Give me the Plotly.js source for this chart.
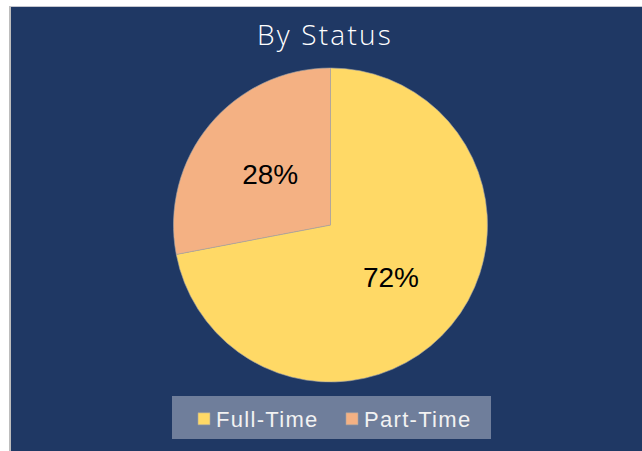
<!DOCTYPE html>
<html>
<head>
<meta charset="utf-8">
<script src="https://cdn.plot.ly/plotly-3.0.1.min.js"></script>
<style>
  html, body { margin: 0; padding: 0; background: #ffffff; width: 642px; height: 451px; overflow: hidden; }
  #frame { position: absolute; left: 9px; top: 6px; width: 633px; height: 445px;
           border-left: 2px solid #bdbdbd; border-top: 1px solid #c4c6cf; }
  #chart { width: 631px; height: 444px; }
  .legendtext { letter-spacing: 1.3px; }
  .legend .legendpoints { transform: translateX(8px); }
  .gtitle { letter-spacing: 2.2px; }
  .slice:nth-of-type(1) .slicetext { translate: 0px 1px; }
  .slice:nth-of-type(2) .slicetext { translate: 4px 3px; }
</style>
</head>
<body>
<div id="frame"><div id="chart"></div></div>
<script>
const categories = ["Full-Time", "Part-Time"];
const shares = [72, 28];
const sliceColors = ["#FFD966", "#F4B183"];
const chartTitle = "By Status";

const W = 631, H = 444;
const cx = 319.5, cy = 218, R = 157;

const trace = {
  type: "pie",
  labels: categories,
  values: shares,
  sort: false,
  direction: "clockwise",
  rotation: 0,
  marker: { colors: sliceColors, line: { color: "#a6a6a6", width: 0.6 } },
  textinfo: "percent",
  texttemplate: "%{percent:.0%}",
  textposition: "inside",
  insidetextorientation: "horizontal",
  textfont: { family: "Liberation Sans, Arial, sans-serif", size: 28, color: "#000000" },
  hoverinfo: "none",
  domain: { x: [(cx - R) / W, (cx + R) / W], y: [(H - cy - R) / H, (H - cy + R) / H] }
};

const layout = {
  width: W, height: H,
  margin: { l: 0, r: 0, t: 0, b: 0 },
  paper_bgcolor: "#1F3864",
  plot_bgcolor: "#1F3864",
  title: {
    text: chartTitle,
    font: { family: "Open Sans, Noto Sans, sans-serif", size: 28, color: "#ffffff", weight: 300 },
    x: 314 / W, xanchor: "center", xref: "paper",
    y: 1 - 28 / H, yanchor: "middle", yref: "paper"
  },
  shapes: [{
    type: "rect", xref: "paper", yref: "paper", layer: "below",
    x0: 161 / W, x1: 480 / W, y0: 1 - 389 / H, y1: 1 - 432 / H,
    fillcolor: "#6F7E9B", line: { width: 0 }
  }],
  showlegend: true,
  legend: {
    orientation: "h",
    x: 165 / W, xanchor: "left",
    y: 1 - 391 / H, yanchor: "top",
    bgcolor: "rgba(0,0,0,0)",
    borderwidth: 0,
    font: { family: "Liberation Sans, Arial, sans-serif", size: 22, color: "#F2F2F2" },
    entrywidth: 103,
    entrywidthmode: "pixels",
    traceorder: "normal"
  }
};

Plotly.newPlot("chart", [trace], layout, { displayModeBar: false, staticPlot: true });
</script>
</body>
</html>
